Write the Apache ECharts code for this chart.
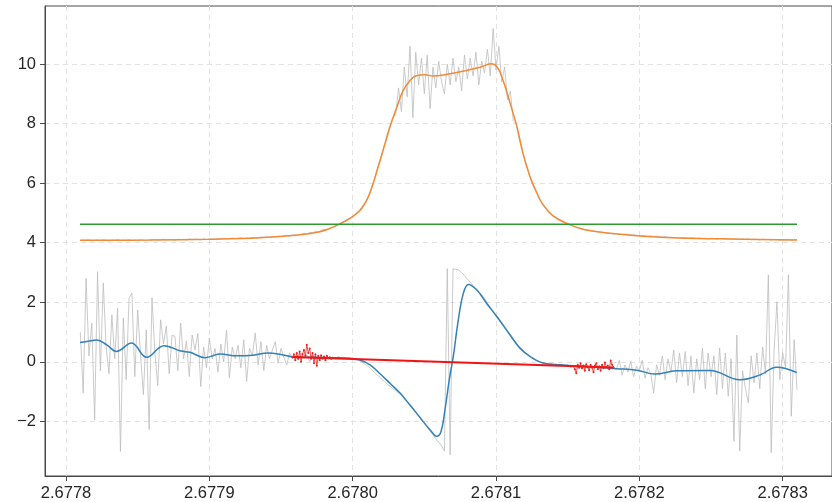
<!DOCTYPE html>
<html>
<head>
<meta charset="utf-8">
<title>Signal and derivative</title>
<script src="https://cdn.jsdelivr.net/npm/echarts@6/dist/echarts.min.js"></script>
<style>
  html, body { margin: 0; padding: 0; background: #ffffff; }
  #chart { width: 832px; height: 502px; }
</style>
</head>
<body>
<div id="chart"></div>
<script>
// Tick positions
const xTicks = [2.6778, 2.6779, 2.6780, 2.6781, 2.6782, 2.6783];
const yTicks = [-2, 0, 2, 4, 6, 8, 10];

// Raw samples on a uniform grid
const rawStart = 2.67781;
const rawStep = 0.000002;

// Raw absorption signal (upper trace)
const rawUpper = [
  4.07,4.09,4.08,4.1,4.06,4.08,4.09,4.07,4.1,4.08,
  4.06,4.09,4.08,4.11,4.07,4.09,4.08,4.1,4.07,4.09,
  4.08,4.1,4.09,4.07,4.1,
  4.09,4.11,4.08,4.1,4.12,4.09,4.11,4.1,4.08,4.12,
  4.1,4.11,4.09,4.13,4.1,4.12,4.11,4.09,4.13,4.11,4.12,
  4.13,4.11,4.14,4.12,4.15,4.13,4.14,4.16,4.13,4.15,
  4.17,4.14,4.16,4.15,4.18,4.16,4.17,4.19,
  4.18,4.2,4.17,4.21,4.19,4.22,4.2,4.23,4.25,4.22,4.26,4.24,4.27,
  4.28,4.32,4.29,4.35,4.33,4.38,4.36,4.42,4.45,4.43,4.5,
  4.52,4.58,4.6,4.68,4.72,4.78,4.83,4.88,4.97,5.05,5.18,5.3,
  5.45,5.68,5.95,6.25,6.6,6.9,7.25,7.5,7.85,8.2,8.3,
  9.2,8.4,9.9,8.9,10.6,8.2,10.4,9.3,10.2,9.0,
  10.3,8.5,9.9,9.2,10.1,9.4,9.0,10.0,9.3,10.2,
  9.4,9.9,9.1,10.3,9.5,10.2,9.6,10.4,9.3,10.1,
  9.7,10.5,9.6,11.2,9.8,10.6,9.4,9.9,8.8,9.1,
  8.1,8.0,7.5,7.2,6.8,6.5,6.15,5.9,5.72,5.5,
  5.35,5.22,5.1,5.0,4.88,4.82,4.75,4.7,4.66,4.62,
  4.6,4.55,4.53,4.5,4.47,4.44,4.43,4.4,4.39,4.37,
  4.36,4.34,4.34,4.32,4.31,
  4.3,4.31,4.29,4.28,4.29,4.27,4.26,4.27,4.25,4.24,4.25,4.23,4.22,4.23,4.21,
  4.22,4.2,4.19,4.21,4.18,4.19,4.17,4.18,4.16,4.18,4.17,4.15,4.17,4.16,4.15,
  4.16,4.14,4.15,4.13,4.15,4.14,4.12,4.14,4.13,4.12,4.13,4.11,4.13,4.12,4.1,
  4.12,4.11,4.13,4.1,4.12,4.11,4.09,4.12,4.1,4.11,4.09,4.11,4.1,4.08,4.1,
  4.09,4.11,4.08,4.1,4.09
];

// Raw derivative signal (lower trace)
const rawLower = [
  1.0,-1.05,2.8,0.2,1.3,-1.95,3.03,-0.3,2.65,0.5,
  -0.4,1.58,0.1,1.8,-3.01,1.47,-0.6,2.14,2.3,-0.5,
  1.74,0.2,-1.1,1.07,-2.28,2.15,0.3,-0.8,1.41,0.6,
  1.2,-0.4,0.9,0.85,-0.3,1.3,0.1,0.7,-0.5,0.9,
  0.4,0.95,-0.83,0.5,-0.2,0.8,0.1,0.45,-0.35,0.6,
  0.0,1.07,-0.54,0.5,0.1,0.55,-0.2,0.74,-0.66,0.45,
  0.2,0.97,-0.1,0.68,-0.3,0.55,0.1,0.4,0.68,-0.05,
  0.45,0.15,-0.1,0.3,0.1,0.2,0.05,0.3,0.1,0.25,
  0.0,0.2,0.15,0.1,0.22,0.08,0.18,0.12,0.15,0.1,
  0.18,0.12,0.14,0.1,0.12,0.09,0.07,0.05,0.0,-0.06,
  -0.12,-0.2,-0.3,-0.4,-0.48,-0.57,-0.66,-0.74,-0.82,-0.9,
  -0.97,-1.04,-1.12,-1.24,-1.36,-1.47,-1.58,-1.7,-1.83,-1.95,
  -2.07,-2.2,-2.33,-2.45,-2.58,-2.7,-2.82,-3.0,3.13,-3.12,
  3.13,3.1,3.08,3.0,2.9,2.78,2.68,2.56,2.46,2.35,
  2.26,2.12,1.98,1.84,1.7,1.58,1.46,1.33,1.2,1.06,
  0.92,0.78,0.64,0.52,0.42,0.32,0.24,0.16,0.1,0.04,
  0.0,-0.03,-0.05,-0.07,-0.05,-0.1,-0.08,-0.12,-0.1,-0.15,
  -0.1,-0.2,-0.12,-0.18,-0.14,-0.2,-0.1,-0.22,-0.16,-0.2,
  -0.15,-0.24,-0.18,-0.2,-0.16,-0.22,-0.2,-0.25,0.05,-0.45,
  -0.1,-0.35,0.02,-0.5,-0.15,-0.3,0.05,-0.55,-0.2,-0.4,
  -1.05,-0.1,-0.45,0.2,-0.6,0.1,-0.35,0.4,-0.7,0.3,
  -0.5,0.35,-0.8,0.2,-1.05,0.1,-0.6,0.45,-0.9,0.3,
  -0.5,0.2,-1.1,0.47,-0.9,0.3,-1.16,0.1,-2.67,0.9,
  -3.0,-0.3,-0.9,-1.38,0.2,-0.7,0.3,-0.9,0.5,-0.4,
  2.92,-3.05,0.4,2.02,-0.6,0.3,-0.2,2.92,-1.83,0.74,
  -0.94
];

// Smoothed fit of the upper trace
const fitUpperX = [
  2.6778098,2.6778586,2.6778998,2.6779353,2.6779633,2.6779772,2.6779842,2.6779912,
  2.6779995,2.6780051,2.6780086,2.6780121,2.6780156,2.6780212,2.6780260,2.6780309,
  2.6780351,2.6780400,2.6780442,2.6780505,2.6780560,2.6780651,2.6780791,2.6780888,
  2.6780965,2.6781007,2.6781049,2.6781098,2.6781146,2.6781188,2.6781237,2.6781286,
  2.6781328,2.6781398,2.6781495,2.6781607,2.6781795,2.6782025,2.6782263,2.6782723,
  2.6783100
];
const fitUpperY = [
  4.08,4.09,4.12,4.17,4.27,4.37,4.48,4.63,
  4.86,5.08,5.32,5.68,6.2,7.1,7.9,8.56,
  9.1,9.45,9.61,9.64,9.6,9.65,9.78,9.89,
  10.01,9.91,9.46,8.69,7.9,7.0,6.22,5.66,
  5.27,4.9,4.65,4.45,4.32,4.22,4.16,4.12,
  4.09
];

// Smoothed fit of the lower trace
const fitLowerX = [
  2.6778098,2.6778153,2.6778214,2.6778284,2.6778352,2.6778457,2.6778563,2.6778684,
  2.6778802,2.6778865,2.6778970,2.6779074,2.6779193,2.6779305,2.6779409,2.6779514,
  2.6779577,2.6779702,2.6779842,2.6779981,2.6780051,2.6780121,2.6780191,2.6780260,
  2.6780330,2.6780400,2.6780470,2.6780539,2.6780586,2.6780616,2.6780644,2.6780674,
  2.6780702,2.6780737,2.6780772,2.6780807,2.6780865,2.6780935,2.6781005,2.6781098,
  2.6781167,2.6781237,2.6781328,2.6781446,2.6781656,2.6781842,2.6781981,2.6782109,
  2.6782261,2.6782493,2.6782702,2.6782842,2.6782958,2.6783098
];
const fitLowerY = [
  0.65,0.69,0.73,0.57,0.35,0.63,0.15,0.54,
  0.36,0.32,0.14,0.26,0.2,0.22,0.3,0.23,
  0.17,0.15,0.14,0.12,0.06,-0.1,-0.4,-0.72,
  -1.05,-1.45,-1.87,-2.28,-2.5,-2.35,-1.61,-0.6,
  0.18,1.41,2.3,2.6,2.42,1.96,1.52,0.9,
  0.46,0.18,-0.04,-0.1,-0.17,-0.23,-0.28,-0.41,
  -0.3,-0.29,-0.6,-0.44,-0.18,-0.36
];

// Threshold level across the scan
const thresholdLevel = 4.62;
const thresholdRange = [2.6778098, 2.6783100];

// Baseline windows (selected points) and the baseline through them
const baseStep = 0.000001;
const baseStart1 = 2.677958;
const baseWindow1 = [
  0.15,0.25,0.05,0.3,0.1,0.35,0.0,0.25,0.4,0.2,
  0.57,0.3,0.45,0.1,0.3,-0.05,0.25,-0.13,0.2,0.05,
  0.22,0.1,0.18,0.05,0.2,0.12,0.15,0.1,0.14
];
const baseStart2 = 2.678154;
const baseWindow2 = [
  -0.15,-0.25,-0.38,-0.1,-0.2,-0.05,-0.22,-0.12,-0.3,-0.08,
  -0.18,-0.28,-0.1,-0.2,-0.35,-0.12,-0.05,-0.25,-0.15,-0.3,
  -0.1,-0.22,-0.02,-0.18,-0.12,-0.25,0.04,-0.1,-0.2
];
const baselineX = [2.6779577, 2.6781823];
const baselineY = [0.16, -0.19];

// Axis extents
const xMin = 2.67778535, xMax = 2.6783344;
const yMin = -3.835, yMax = 11.95;

const sampled = (start, step, ys) => ys.map((y, i) => [start + i * step, y]);
const zip = (xs, ys) => xs.map((x, i) => [x, ys[i]]);

const axisColor = '#4a4a4a';
const labelStyle = { fontSize: 16.5, color: '#262626', fontFamily: 'Liberation Sans' };
const gridLine = { show: true, lineStyle: { color: '#e2e2e2', width: 1, type: [5, 4] } };

const plain = (name, data, color, width, extra) => Object.assign({
  name, type: 'line', data, showSymbol: false, symbol: 'none',
  lineStyle: { color, width }, itemStyle: { color },
  silent: true, animation: false, clip: true
}, extra || {});

const chart = echarts.init(document.getElementById('chart'), null, { renderer: 'canvas' });
chart.setOption({
  backgroundColor: '#ffffff',
  animation: false,
  grid: {
    left: 45, top: 6, right: 0, bottom: 26,
    show: true, borderColor: axisColor, borderWidth: 1, backgroundColor: 'transparent'
  },
  xAxis: {
    type: 'value', min: xMin, max: xMax, scale: true,
    axisLine: { show: true, onZero: false, lineStyle: { color: axisColor, width: 1 } },
    axisTick: { show: true, inside: false, length: 5, customValues: xTicks, lineStyle: { color: axisColor } },
    axisLabel: Object.assign({ customValues: xTicks, margin: 9, formatter: v => v.toFixed(4) }, labelStyle),
    splitLine: gridLine
  },
  yAxis: {
    type: 'value', min: yMin, max: yMax,
    axisLine: { show: true, onZero: false, lineStyle: { color: axisColor, width: 1 } },
    axisTick: { show: true, inside: false, length: 5, customValues: yTicks, lineStyle: { color: axisColor } },
    axisLabel: Object.assign({
      customValues: yTicks, margin: 9,
      formatter: v => (v < 0 ? '\u2212' + Math.abs(v) : String(v))
    }, labelStyle),
    splitLine: gridLine
  },
  series: [
    plain('raw derivative', sampled(rawStart, rawStep, rawLower), '#bdbdbd', 0.8),
    plain('raw signal', sampled(rawStart, rawStep, rawUpper), '#bdbdbd', 0.8),
    plain('signal fit', zip(fitUpperX, fitUpperY), '#f28a36', 1.5, { smooth: 0.4 }),
    plain('threshold', [[thresholdRange[0], thresholdLevel], [thresholdRange[1], thresholdLevel]], '#2f9a2f', 1.5),
    plain('derivative fit', zip(fitLowerX, fitLowerY), '#3281b8', 1.5, { smooth: 0.4 }),
    plain('baseline window 1', sampled(baseStart1, baseStep, baseWindow1), '#e8231f', 0.8,
      { showSymbol: true, symbol: 'circle', symbolSize: 2 }),
    plain('baseline window 2', sampled(baseStart2, baseStep, baseWindow2), '#e8231f', 0.8,
      { showSymbol: true, symbol: 'circle', symbolSize: 2 }),
    plain('baseline', zip(baselineX, baselineY), '#f01414', 2)
  ]
});
</script>
</body>
</html>
